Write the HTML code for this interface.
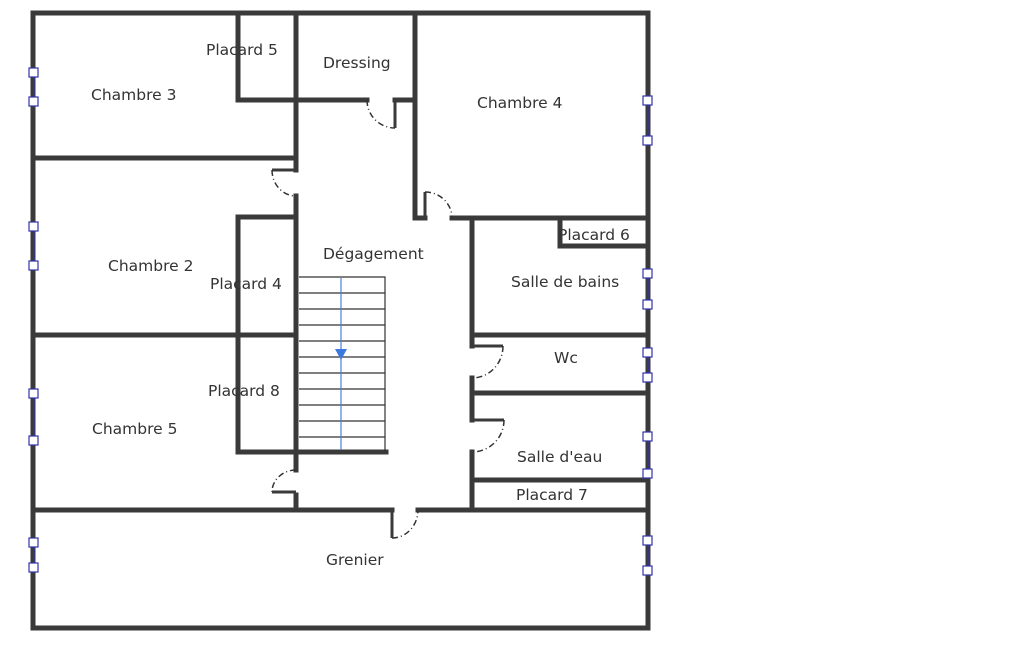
<!DOCTYPE html>
<html><head><meta charset="utf-8"><style>
html,body{margin:0;padding:0;background:#fff;width:1025px;height:650px;overflow:hidden}
svg text{font-family:"DejaVu Sans","Liberation Sans",sans-serif;font-size:15.5px;fill:#333}
</style></head><body>
<svg width="1025" height="650" viewBox="0 0 1025 650" xmlns="http://www.w3.org/2000/svg">
<g stroke="#3a3a3a" stroke-width="5" fill="none" stroke-linecap="square">
<path d="M33 13 H648 V628 H33 Z"/>
<path d="M238 13 V100 H367"/>
<path d="M395 100 H415"/>
<path d="M296 13 V170"/>
<path d="M33 158 H296"/>
<path d="M415 13 V218 H425"/>
<path d="M452 218 H648"/>
<path d="M296 196 V470"/>
<path d="M296 495 V510"/>
<path d="M238 217 H296"/>
<path d="M238 217 V452 H296"/>
<path d="M33 335 H296"/>
<path d="M296 452 H386"/>
<path d="M472 218 V346"/>
<path d="M472 378 V420"/>
<path d="M472 452 V510"/>
<path d="M560 218 V246 H648"/>
<path d="M472 335 H648"/>
<path d="M472 393 H648"/>
<path d="M472 480 H648"/>
<path d="M33 510 H392"/>
<path d="M418 510 H648"/>
</g>
<g stroke="#3a3a3a" stroke-width="3" fill="none">
<path d="M395 100 V128"/>
<path d="M272 170 H296"/>
<path d="M425 192 V218"/>
<path d="M472 346 H503"/>
<path d="M472 420 H504"/>
<path d="M272 492 H296"/>
<path d="M392 510 V538"/>
</g>
<g stroke="#333" stroke-width="1.5" fill="none" stroke-dasharray="6 3 1 3">
<path d="M367 100 A28 28 0 0 0 395 128"/>
<path d="M272 170 A24 26 0 0 0 296 196"/>
<path d="M425 192 A27 26 0 0 1 452 218"/>
<path d="M503 346 A31 32 0 0 1 472 378"/>
<path d="M504 420 A32 32 0 0 1 472 452"/>
<path d="M296 470 A24 22 0 0 0 272 492"/>
<path d="M392 538 A26 28 0 0 0 418 510"/>
</g>
<g stroke="#333" stroke-width="1.2" fill="none">
<path d="M299 277 H385 V452"/>
<path d="M299 293 H385 M299 309 H385 M299 325 H385 M299 341 H385 M299 357 H385 M299 373 H385 M299 389 H385 M299 405 H385 M299 421 H385 M299 437 H385"/>
</g>
<path d="M341 278 V450" stroke="#4a7fd8" stroke-width="1.2"/>
<path d="M335 349 H347 L341 360 Z" fill="#3b78e0"/>
<g stroke="#3333aa" stroke-width="1.2" fill="#fff">
<path d="M34 72 V102 M34 226 V266 M34 393 V441 M34 543 V568"/>
<path d="M648 101 V141 M648 274 V305 M648 353 V378 M648 437 V474 M648 541 V571"/>
<rect x="29" y="68" width="9" height="9"/><rect x="29" y="97" width="9" height="9"/>
<rect x="29" y="222" width="9" height="9"/><rect x="29" y="261" width="9" height="9"/>
<rect x="29" y="389" width="9" height="9"/><rect x="29" y="436" width="9" height="9"/>
<rect x="29" y="538" width="9" height="9"/><rect x="29" y="563" width="9" height="9"/>
<rect x="643" y="96" width="9" height="9"/><rect x="643" y="136" width="9" height="9"/>
<rect x="643" y="269" width="9" height="9"/><rect x="643" y="300" width="9" height="9"/>
<rect x="643" y="348" width="9" height="9"/><rect x="643" y="373" width="9" height="9"/>
<rect x="643" y="432" width="9" height="9"/><rect x="643" y="469" width="9" height="9"/>
<rect x="643" y="536" width="9" height="9"/><rect x="643" y="566" width="9" height="9"/>
</g>
<text x="206" y="55">Placard 5</text>
<text x="323" y="68">Dressing</text>
<text x="91" y="100">Chambre 3</text>
<text x="477" y="108">Chambre 4</text>
<text x="558" y="240">Placard 6</text>
<text x="323" y="259">Dégagement</text>
<text x="108" y="271">Chambre 2</text>
<text x="210" y="289">Placard 4</text>
<text x="511" y="287">Salle de bains</text>
<text x="554" y="363">Wc</text>
<text x="208" y="396">Placard 8</text>
<text x="92" y="434">Chambre 5</text>
<text x="517" y="462">Salle d'eau</text>
<text x="516" y="500">Placard 7</text>
<text x="326" y="565">Grenier</text>
</svg>
</body></html>
